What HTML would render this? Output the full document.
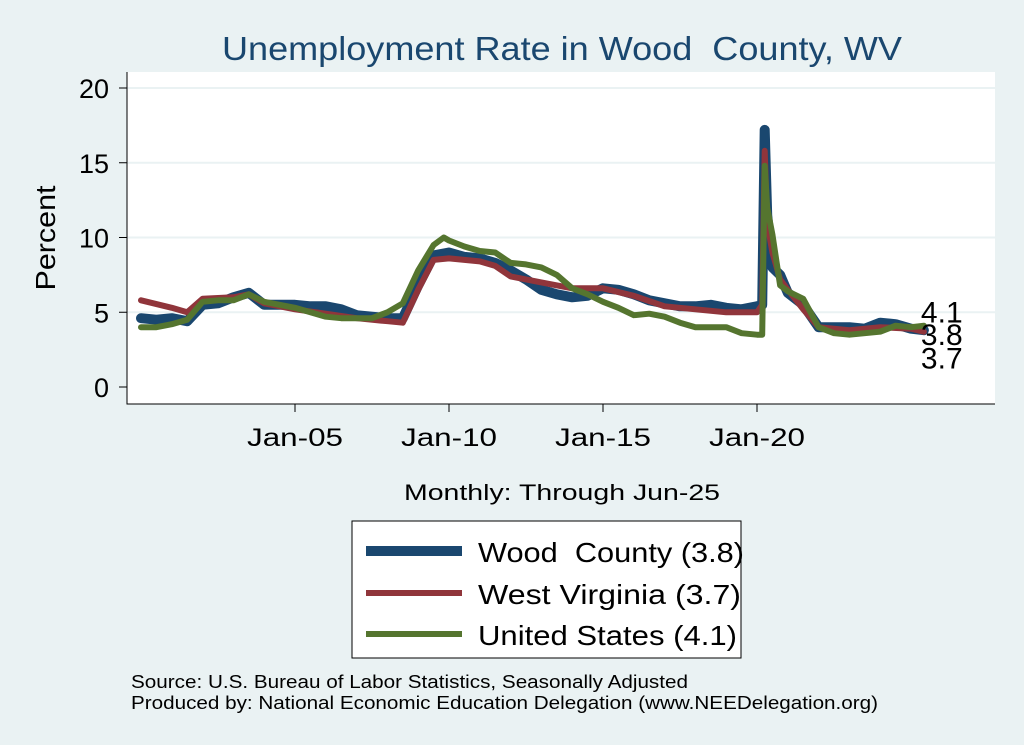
<!DOCTYPE html>
<html><head><meta charset="utf-8"><style>
body{margin:0;background:#eaf2f3;}
svg{display:block;font-family:"Liberation Sans",Arial,sans-serif;}
</style></head><body>
<svg id="c" width="1024" height="745">
<rect x="0" y="0" width="1024" height="745" fill="#eaf2f3"/>
<rect x="127" y="72" width="868" height="332" fill="#fff"/>
<text x="222" y="60" font-size="33" fill="#1a476f" textLength="680" lengthAdjust="spacingAndGlyphs">Unemployment Rate in Wood&#160; County, WV</text>
<g id="grid"></g><g id="axes"></g><g id="series"></g>
<text x="55" y="238" text-anchor="middle" font-size="28" textLength="105" lengthAdjust="spacingAndGlyphs" transform="rotate(-90 55 238)">Percent</text>
<text x="404" y="500" font-size="22" textLength="316" lengthAdjust="spacingAndGlyphs">Monthly: Through Jun-25</text>
<g>
<rect x="352" y="521" width="389" height="137" fill="#fff" stroke="#000" stroke-width="1"/>
<line x1="366" y1="551" x2="462" y2="551" stroke="#1a476f" stroke-width="10"/>
<text x="478" y="562" font-size="28" textLength="266" lengthAdjust="spacingAndGlyphs">Wood&#160; County (3.8)</text>
<line x1="366" y1="593" x2="462" y2="593" stroke="#90353b" stroke-width="6"/>
<text x="478" y="604" font-size="28" textLength="263" lengthAdjust="spacingAndGlyphs">West Virginia (3.7)</text>
<line x1="366" y1="634" x2="462" y2="634" stroke="#55752f" stroke-width="6"/>
<text x="478" y="645" font-size="28" textLength="259" lengthAdjust="spacingAndGlyphs">United States (4.1)</text>
</g>
<text x="131" y="688" font-size="18" textLength="557" lengthAdjust="spacingAndGlyphs">Source: U.S. Bureau of Labor Statistics, Seasonally Adjusted</text>
<text x="131" y="709" font-size="18" textLength="747" lengthAdjust="spacingAndGlyphs">Produced by: National Economic Education Delegation (www.NEEDelegation.org)</text>
</svg>
<script>
const yTicks=[0,5,10,15,20];
const xTicks=[2005,2010,2015,2020];
const xTickLabels=["Jan-05","Jan-10","Jan-15","Jan-20"];
const woodDates=[2000,2000.5,2001,2001.5,2002,2002.5,2003,2003.5,2004,2004.5,2005,2005.5,2006,2006.5,2007,2007.5,2008,2008.5,2009,2009.5,2010,2010.5,2011,2011.5,2012,2012.5,2013,2013.5,2014,2014.5,2015,2015.5,2016,2016.5,2017,2017.5,2018,2018.5,2019,2019.5,2020,2020.17,2020.25,2020.33,2020.5,2020.75,2021,2021.5,2022,2022.5,2023,2023.5,2024,2024.5,2025,2025.42];
const woodValues=[4.6,4.5,4.6,4.4,5.5,5.6,6.0,6.3,5.5,5.5,5.5,5.4,5.4,5.2,4.8,4.7,4.6,4.6,6.8,8.8,9.0,8.7,8.6,8.3,7.8,7.2,6.5,6.2,6.0,6.1,6.6,6.5,6.2,5.8,5.6,5.4,5.4,5.5,5.3,5.2,5.4,5.5,17.2,11.5,8.0,7.5,6.3,5.5,4.0,4.0,4.0,3.9,4.3,4.2,3.9,3.8];
const wvDates=[2000,2001,2001.5,2002,2003,2003.5,2004,2005,2006,2007,2008,2008.5,2009,2009.5,2010,2011,2011.5,2012,2013,2014,2015,2016,2017,2018,2019,2020,2020.17,2020.25,2020.33,2020.5,2020.75,2021,2021.5,2022,2023,2024,2025,2025.42];
const wvValues=[5.8,5.3,5.0,5.9,6.0,6.2,5.6,5.2,4.9,4.6,4.4,4.3,6.5,8.5,8.6,8.4,8.1,7.4,7.0,6.6,6.6,6.1,5.4,5.2,5.0,5.0,5.5,15.8,11.0,9.0,7.2,6.5,5.2,4.0,3.8,4.0,3.9,3.7];
const usDates=[2000,2000.5,2001,2001.5,2002,2002.5,2003,2003.5,2004,2004.5,2005,2005.5,2006,2006.5,2007,2007.5,2008,2008.5,2009,2009.5,2009.83,2010,2010.5,2011,2011.5,2012,2012.5,2013,2013.5,2014,2014.5,2015,2015.5,2016,2016.5,2017,2017.5,2018,2018.5,2019,2019.5,2020,2020.17,2020.25,2020.33,2020.5,2020.75,2021,2021.5,2022,2022.5,2023,2023.5,2024,2024.5,2025,2025.42];
const usValues=[4.0,4.0,4.2,4.5,5.7,5.8,5.8,6.2,5.7,5.5,5.3,5.0,4.7,4.6,4.6,4.6,5.0,5.6,7.8,9.5,10.0,9.8,9.4,9.1,9.0,8.3,8.2,8.0,7.5,6.6,6.2,5.7,5.3,4.8,4.9,4.7,4.3,4.0,4.0,4.0,3.6,3.5,3.5,14.8,12.0,10.2,6.8,6.4,5.9,4.0,3.6,3.5,3.6,3.7,4.1,4.0,4.1];
const endLabels=["4.1","3.8","3.7"];

const NS="http://www.w3.org/2000/svg";
const X=t=>141+(t-2000)*30.8;
const Y=v=>387-v*14.95;
function mk(tag,attrs,parent){const e=document.createElementNS(NS,tag);for(const k in attrs)e.setAttribute(k,attrs[k]);document.getElementById(parent).appendChild(e);return e;}
yTicks.forEach(v=>{
  if(v>0){const g=mk('line',{x1:127,x2:995,y1:Y(v),y2:Y(v),stroke:'#eaf2f3','stroke-width':2},'grid');
  
  }
  const t=mk('line',{x1:119,x2:127,y1:Y(v),y2:Y(v),stroke:'#000'},'axes');
  
  
  const l=mk('text',{x:109,y:Y(v)+10,'text-anchor':'end','font-size':27},'axes');
  l.textContent=v;
  
  
});
xTicks.forEach((t,i)=>{
  const tk=mk('line',{x1:X(t),x2:X(t),y1:404,y2:412,stroke:'#000'},'axes');
  
  
  const l=mk('text',{x:X(t)-48,y:446,'font-size':25,textLength:96,lengthAdjust:'spacingAndGlyphs'},'axes');
  l.textContent=xTickLabels[i];
  
  
});
const ax=mk('path',{d:'M127 72 V404 H995',fill:'none',stroke:'#000'},'axes');


function line(d,v,col,w,name){
  const p=mk('path',{d:d.map((t,i)=>(i?'L':'M')+X(t).toFixed(1)+' '+Y(v[i]).toFixed(1)).join(''),fill:'none',stroke:col,'stroke-width':w,'stroke-linejoin':'round','stroke-linecap':'round'},'series');
  
  
}
line(woodDates,woodValues,'#1a476f',10,'wood-county-line');
line(wvDates,wvValues,'#90353b',6,'west-virginia-line');
line(usDates,usValues,'#55752f',6,'united-states-line');
const ex=X(2025.42)-3;
const ends=[usValues[usValues.length-1],woodValues[woodValues.length-1],wvValues[wvValues.length-1]];
const offs=[-3,15,37];
endLabels.forEach((s,i)=>{
  const t=mk('text',{x:ex,y:Y(ends[i])+offs[i],'font-size':30},'series');
  t.textContent=s;
  
  
});
</script>
</body></html>
